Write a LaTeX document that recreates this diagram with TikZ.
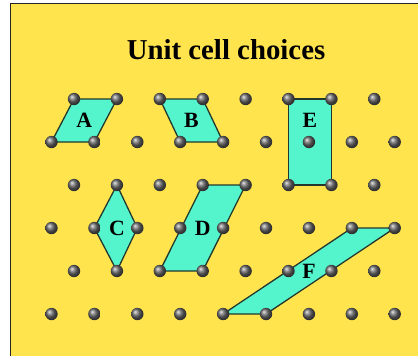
\documentclass[tikz,border=0pt]{standalone}
\usepackage{fontspec}
\setmainfont{Liberation Serif}
\usepackage{xcolor}
\usepackage{tikz}
\usetikzlibrary{calc, backgrounds}

\definecolor{bgyellow}{RGB}{255,228,78}
\definecolor{cellcyan}{RGB}{84,245,204}
\definecolor{edgedark}{RGB}{35,55,45}

\begin{document}
\begin{tikzpicture}[
    x=0.25mm, y=-0.25mm,
    atom/.style={circle, inner sep=0pt, minimum size=3.1mm, shading=ball, ball color=black!60},
    cell/.style={fill=cellcyan, draw=edgedark, line width=0.32mm, line join=round},
    tag/.style={inner sep=0pt, font=\fontsize{15.5}{17}\selectfont\bfseries},
    heading/.style={anchor=base, font=\fontsize{20.5}{24}\selectfont\bfseries}
]
\useasboundingbox (0,0) rectangle (418,356);

\node[heading] (title) at (226,59.5) {Unit cell choices};

% lattice points
\foreach \r in {1,3,5}
    \foreach \k in {0,...,7}
        \node[atom] (p-\r-\k) at ({74+42.9*\k},{99+43*(\r-1)}) {};
\foreach \r in {2,4,6}
    \foreach \k in {0,...,8}
        \node[atom] (p-\r-\k) at ({51.5+42.9*\k},{99+43*(\r-1)}) {};

% unit cells
\begin{scope}[on background layer]
    \fill[bgyellow] (10.5,3.5) rectangle (418,356);
    \draw[line width=0.4mm, black!85] (10.5,356) -- (10.5,3.5) -- (418,3.5);
    \draw[cell] (p-1-0.center) -- (p-1-1.center) -- (p-2-1.center) -- (p-2-0.center) -- cycle;
    \draw[cell] (p-1-2.center) -- (p-1-3.center) -- (p-2-4.center) -- (p-2-3.center) -- cycle;
    \draw[cell] (p-1-5.center) -- (p-1-6.center) -- (p-3-6.center) -- (p-3-5.center) -- cycle;
    \draw[cell] (p-3-1.center) -- (p-4-2.center) -- (p-5-1.center) -- (p-4-1.center) -- cycle;
    \draw[cell] (p-3-3.center) -- (p-3-4.center) -- (p-5-3.center) -- (p-5-2.center) -- cycle;
    \draw[cell] (p-4-7.center) -- (p-4-8.center) -- (p-6-5.center) -- (p-6-4.center) -- cycle;
\end{scope}

% labels
\node[tag] (lA) at ($(p-1-0)!0.5!(p-2-1)$) {A};
\node[tag] (lB) at ($(p-1-2)!0.5!(p-2-4)$) {B};
\node[tag] (lE) at ($(p-1-5)!0.5!(p-1-6)+(0,21.5)$) {E};
\node[tag] (lC) at ($(p-3-1)!0.5!(p-5-1)$) {C};
\node[tag] (lD) at ($(p-3-4)!0.5!(p-5-2)$) {D};
\node[tag] (lF) at ($(p-4-7)!0.5!(p-6-5)$) {F};

\end{tikzpicture}
\end{document}
